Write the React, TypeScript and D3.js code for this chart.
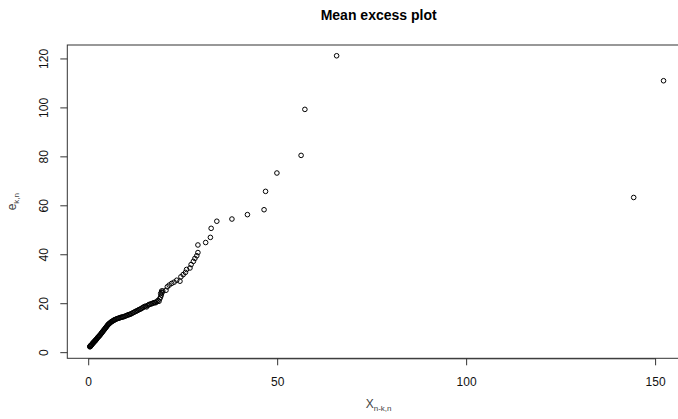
import { useRef, useEffect } from "react";
import * as d3 from "d3";

// threshold X_{n-k,n}
const thresholds = [
  0.3, 0.35, 0.4, 0.45, 0.5, 0.55, 0.6, 0.7, 0.8, 0.9, 1.0, 1.1, 1.2, 1.3, 1.4, 1.5,
  1.6, 1.7, 1.8, 1.9, 2.0, 2.15, 2.3, 2.45, 2.6, 2.75, 2.9, 3.05, 3.2, 3.35, 3.5, 3.65,
  3.8, 3.95, 4.1, 4.25, 4.4, 4.55, 4.7, 4.85, 5.0, 5.15, 5.3, 5.45, 5.6, 5.8, 6.0, 6.2,
  6.4, 6.6, 6.8, 7.0, 7.25, 7.5, 7.75, 8.0, 8.25, 8.5, 8.75, 9.0, 9.3, 9.6, 9.9, 10.2,
  10.5, 10.8, 11.1, 11.4, 11.7, 12.0, 12.3, 12.6, 12.9, 13.2, 13.5, 13.8, 14.1, 14.4,
  14.7, 15.0, 15.3, 15.6, 15.9, 16.2, 16.5, 16.8, 17.1, 17.4, 17.7, 18.0, 18.3, 18.6,
  18.8, 19.0, 19.2, 19.4, 19.6,
  19.05, 19.3, 20.45, 20.8, 21.3, 21.96, 22.6, 23.3, 24.15, 24.4, 25.0, 25.6, 25.9,
  26.8, 27.1, 27.7, 28.1, 28.6, 28.9, 28.9, 30.95, 32.2, 32.4, 33.9, 37.9, 42.0, 46.4,
  46.8, 49.8, 56.2, 57.2, 65.6, 144.2, 152.1,
];

// mean excess e_{k,n}
const excess = [
  2.4, 2.6, 2.5, 2.8, 2.7, 2.9, 3.0, 3.1, 3.3, 3.5, 3.7, 3.9, 4.0, 4.2, 4.4, 4.5,
  4.7, 4.9, 5.0, 5.2, 5.4, 5.7, 6.0, 6.3, 6.5, 6.8, 7.0, 7.3, 7.6, 7.9, 8.2, 8.5,
  8.8, 9.1, 9.4, 9.7, 10.0, 10.3, 10.6, 10.9, 11.2, 11.5, 11.7, 11.9, 12.1, 12.4, 12.6, 12.8,
  13.0, 13.2, 13.4, 13.5, 13.7, 13.9, 14.0, 14.1, 14.3, 14.4, 14.5, 14.6, 14.7, 14.9, 15.1, 15.3,
  15.5, 15.6, 15.8, 16.0, 16.3, 16.5, 16.8, 17.0, 17.2, 17.5, 17.7, 17.9, 18.2, 18.5,
  18.8, 19.0, 18.7, 19.3, 19.6, 19.8, 19.9, 20.1, 20.3, 20.5, 20.4, 20.8, 21.3, 21.0,
  22.0, 22.7, 23.5, 24.5, 25.2,
  24.2, 25.2, 25.5, 26.9, 27.6, 28.3, 28.8, 29.6, 29.2, 31.0, 31.9, 32.8, 34.0,
  34.6, 36.0, 37.3, 38.5, 39.6, 40.9, 44.0, 45.0, 47.1, 50.8, 53.7, 54.6, 56.4, 58.4,
  65.9, 73.4, 80.6, 99.4, 121.3, 63.4, 111.1,
];

const xTicks = [0, 50, 100, 150];
const yTicks = [0, 20, 40, 60, 80, 100, 120];

const W = 678;
const H = 419;
const font = "'Liberation Sans', Arial, Helvetica, sans-serif";

export default function App() {
  const svgRef = useRef<SVGSVGElement>(null);

  useEffect(() => {
    if (!svgRef.current) return;
    const svg = d3.select(svgRef.current);
    svg.selectAll("*").remove();

    const left = 67.3;
    const right = 690;
    const top = 45;
    const bottom = 358.3;

    const x = d3.scaleLinear().domain([-5.66, 159.1]).range([left, right]);
    const y = d3.scaleLinear().domain([-2.3, 125.7]).range([bottom, top]);

    // points
    svg
      .append("g")
      .selectAll("circle")
      .data(thresholds)
      .join("circle")
      .attr("cx", (d) => x(d))
      .attr("cy", (_, i) => y(excess[i]))
      .attr("r", 2.3)
      .attr("fill", "none")
      .attr("stroke", "#000")
      .attr("stroke-width", 1);

    // box
    svg
      .append("rect")
      .attr("x", left)
      .attr("y", top)
      .attr("width", right - left)
      .attr("height", bottom - top)
      .attr("fill", "none")
      .attr("stroke", "#333")
      .attr("stroke-width", 1);

    // x axis
    const xa = svg.append("g");
    xa.append("line")
      .attr("x1", x(0))
      .attr("x2", x(150))
      .attr("y1", bottom + 0.5)
      .attr("y2", bottom + 0.5)
      .attr("stroke", "#333");
    xTicks.forEach((t) => {
      xa.append("line")
        .attr("x1", x(t))
        .attr("x2", x(t))
        .attr("y1", bottom)
        .attr("y2", bottom + 7)
        .attr("stroke", "#333");
      xa.append("text")
        .attr("x", x(t))
        .attr("y", bottom + 28)
        .attr("text-anchor", "middle")
        .attr("font-family", font)
        .attr("font-size", 12)
        .attr("fill", "#111")
        .text(t);
    });

    // y axis
    const ya = svg.append("g");
    yTicks.forEach((t) => {
      ya.append("line")
        .attr("x1", left - 7)
        .attr("x2", left)
        .attr("y1", y(t))
        .attr("y2", y(t))
        .attr("stroke", "#333");
      ya.append("text")
        .attr("transform", `translate(${left - 19},${y(t)}) rotate(-90)`)
        .attr("text-anchor", "middle")
        .attr("font-family", font)
        .attr("font-size", 12)
        .attr("fill", "#111")
        .text(t);
    });

    // title
    svg
      .append("text")
      .attr("x", (left + right) / 2)
      .attr("y", 20)
      .attr("text-anchor", "middle")
      .attr("font-family", font)
      .attr("font-size", 14)
      .attr("font-weight", "bold")
      .attr("fill", "#000")
      .text("Mean excess plot");

    // x label
    const xl = svg
      .append("text")
      .attr("x", (left + right) / 2)
      .attr("y", 408)
      .attr("text-anchor", "middle")
      .attr("font-family", font)
      .attr("font-size", 12)
      .attr("fill", "#444");
    xl.append("tspan").text("X");
    xl.append("tspan").attr("font-size", 8).attr("dy", 3).text("n-k,n");

    // y label
    const yl = svg
      .append("text")
      .attr("transform", `translate(16,${(top + bottom) / 2}) rotate(-90)`)
      .attr("text-anchor", "middle")
      .attr("font-family", font)
      .attr("font-size", 12)
      .attr("fill", "#444");
    yl.append("tspan").text("e");
    yl.append("tspan").attr("font-size", 8).attr("dy", 3).text("k,n");
  }, []);

  return (
    <div style={{ position: "fixed", left: 0, top: 0, width: W, height: H, background: "#fff" }}>
      <svg ref={svgRef} width={W} height={H} style={{ display: "block" }} />
    </div>
  );
}
